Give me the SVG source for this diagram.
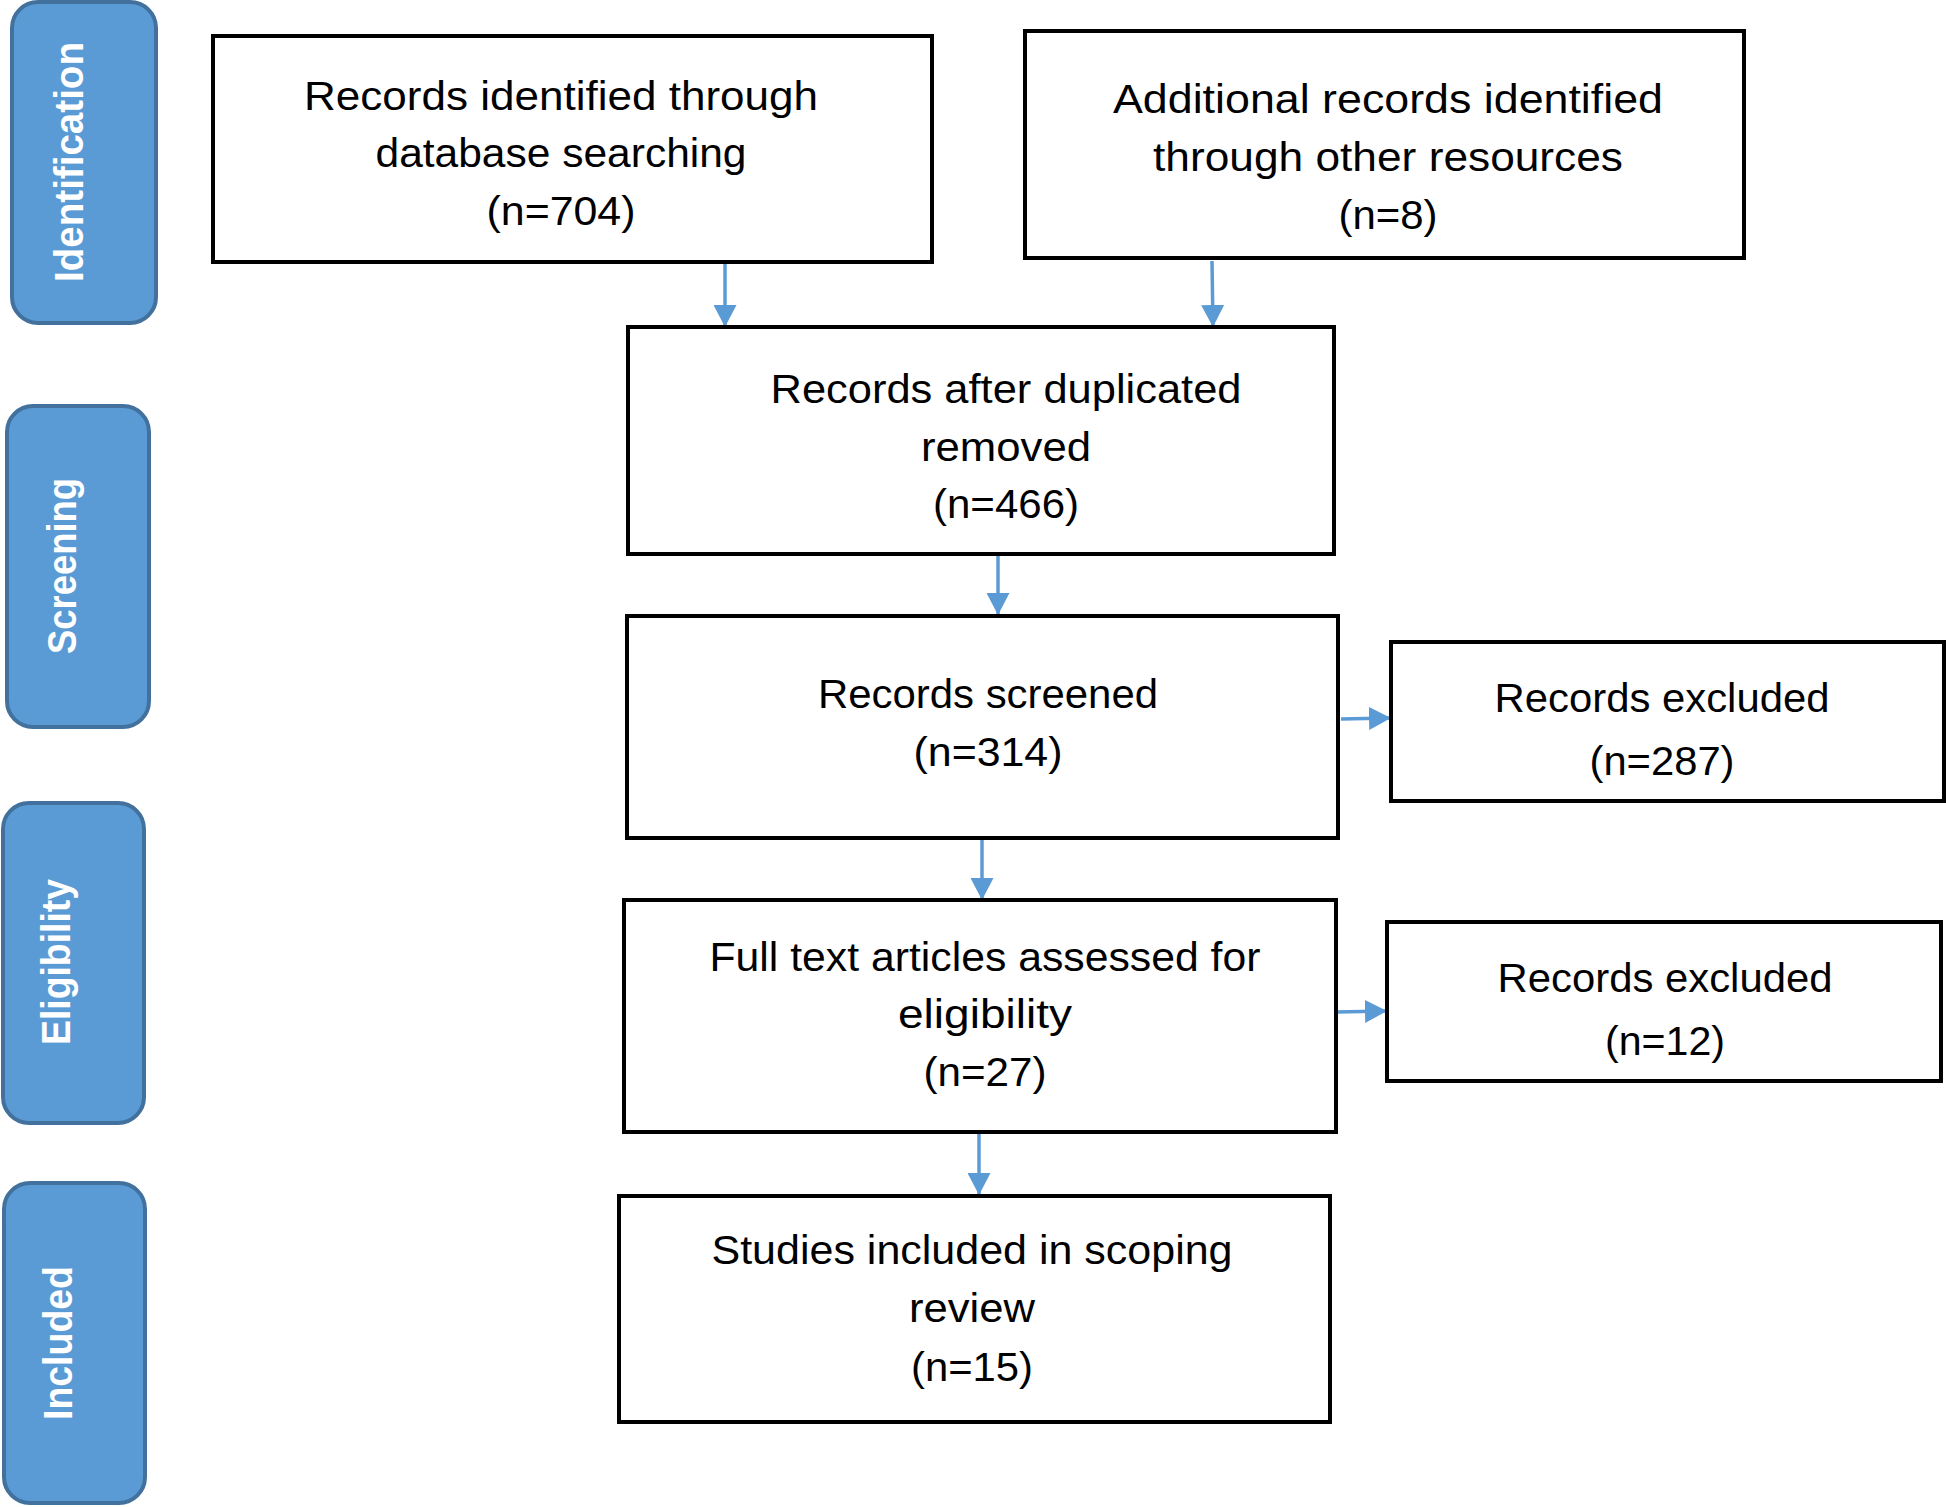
<svg xmlns="http://www.w3.org/2000/svg" width="1946" height="1507" viewBox="0 0 1946 1507">
<style>
.bar{fill:#5b9bd5;stroke:#41719c;stroke-width:4}
.box{fill:#fff;stroke:#000;stroke-width:4}
.bl{font-family:"Liberation Sans",Arial,sans-serif;font-weight:bold;font-size:40px;fill:#fff;text-anchor:middle}
.t{font-family:"Liberation Sans",Arial,sans-serif;font-size:40px;fill:#000;text-anchor:middle}
.c{stroke:#5b9bd5;stroke-width:3.5;fill:none;marker-end:url(#ah)}
</style>
<defs>
<marker id="ah" markerUnits="userSpaceOnUse" markerWidth="22" markerHeight="23" refX="22" refY="11.5" orient="auto">
<path d="M0,0 L22,11.5 L0,23 z" fill="#5b9bd5"/>
</marker>
</defs>
<rect width="1946" height="1507" fill="#fff"/>
<g id="phase-identification"><rect class="bar" x="12" y="2" width="144" height="321" rx="26"/><text class="bl" transform="translate(83,162) rotate(-90)" textLength="240" lengthAdjust="spacingAndGlyphs">Identification</text></g>
<g id="phase-screening"><rect class="bar" x="7" y="406" width="142" height="321" rx="26"/><text class="bl" transform="translate(76,566) rotate(-90)" textLength="176" lengthAdjust="spacingAndGlyphs">Screening</text></g>
<g id="phase-eligibility"><rect class="bar" x="3" y="803" width="141" height="320" rx="26"/><text class="bl" transform="translate(70,962) rotate(-90)" textLength="166" lengthAdjust="spacingAndGlyphs">Eligibility</text></g>
<g id="phase-included"><rect class="bar" x="4" y="1183" width="141" height="320" rx="26"/><text class="bl" transform="translate(72,1343) rotate(-90)" textLength="154" lengthAdjust="spacingAndGlyphs">Included</text></g>
<g id="connectors">
<line class="c" x1="725" y1="263" x2="725" y2="327"/>
<line class="c" x1="1212" y1="261" x2="1213" y2="327"/>
<line class="c" x1="998" y1="555" x2="998" y2="615"/>
<line class="c" x1="982" y1="839" x2="982" y2="900"/>
<line class="c" x1="979" y1="1133" x2="979" y2="1195"/>
<line class="c" x1="1341" y1="719" x2="1391" y2="718"/>
<line class="c" x1="1336" y1="1012" x2="1387" y2="1011"/>
</g>
<g id="n-database"><rect class="box" x="213" y="36" width="719" height="226"/>
<text class="t" x="561" y="110" textLength="514" lengthAdjust="spacingAndGlyphs">Records identified through</text>
<text class="t" x="561" y="167" textLength="371" lengthAdjust="spacingAndGlyphs">database searching</text>
<text class="t" x="561" y="225" textLength="149" lengthAdjust="spacingAndGlyphs">(n=704)</text></g>
<g id="n-additional"><rect class="box" x="1025" y="31" width="719" height="227"/>
<text class="t" x="1388" y="113" textLength="550" lengthAdjust="spacingAndGlyphs">Additional records identified</text>
<text class="t" x="1388" y="171" textLength="470" lengthAdjust="spacingAndGlyphs">through other resources</text>
<text class="t" x="1388" y="229" textLength="99" lengthAdjust="spacingAndGlyphs">(n=8)</text></g>
<g id="n-dedup"><rect class="box" x="628" y="327" width="706" height="227"/>
<text class="t" x="1006" y="403" textLength="471" lengthAdjust="spacingAndGlyphs">Records after duplicated</text>
<text class="t" x="1006" y="461" textLength="170" lengthAdjust="spacingAndGlyphs">removed</text>
<text class="t" x="1006" y="518" textLength="146" lengthAdjust="spacingAndGlyphs">(n=466)</text></g>
<g id="n-screened"><rect class="box" x="627" y="616" width="711" height="222"/>
<text class="t" x="988" y="708" textLength="340" lengthAdjust="spacingAndGlyphs">Records screened</text>
<text class="t" x="988" y="766" textLength="149" lengthAdjust="spacingAndGlyphs">(n=314)</text></g>
<g id="n-excluded1"><rect class="box" x="1391" y="642" width="553" height="159"/>
<text class="t" x="1662" y="712" textLength="335" lengthAdjust="spacingAndGlyphs">Records excluded</text>
<text class="t" x="1662" y="775" textLength="145" lengthAdjust="spacingAndGlyphs">(n=287)</text></g>
<g id="n-fulltext"><rect class="box" x="624" y="900" width="712" height="232"/>
<text class="t" x="985" y="971" textLength="551" lengthAdjust="spacingAndGlyphs">Full text articles assessed for</text>
<text class="t" x="985" y="1028" textLength="174" lengthAdjust="spacingAndGlyphs">eligibility</text>
<text class="t" x="985" y="1086" textLength="123" lengthAdjust="spacingAndGlyphs">(n=27)</text></g>
<g id="n-excluded2"><rect class="box" x="1387" y="922" width="554" height="159"/>
<text class="t" x="1665" y="992" textLength="335" lengthAdjust="spacingAndGlyphs">Records excluded</text>
<text class="t" x="1665" y="1055" textLength="120" lengthAdjust="spacingAndGlyphs">(n=12)</text></g>
<g id="n-included"><rect class="box" x="619" y="1196" width="711" height="226"/>
<text class="t" x="972" y="1264" textLength="521" lengthAdjust="spacingAndGlyphs">Studies included in scoping</text>
<text class="t" x="972" y="1322" textLength="126" lengthAdjust="spacingAndGlyphs">review</text>
<text class="t" x="972" y="1381" textLength="122" lengthAdjust="spacingAndGlyphs">(n=15)</text></g>
</svg>
